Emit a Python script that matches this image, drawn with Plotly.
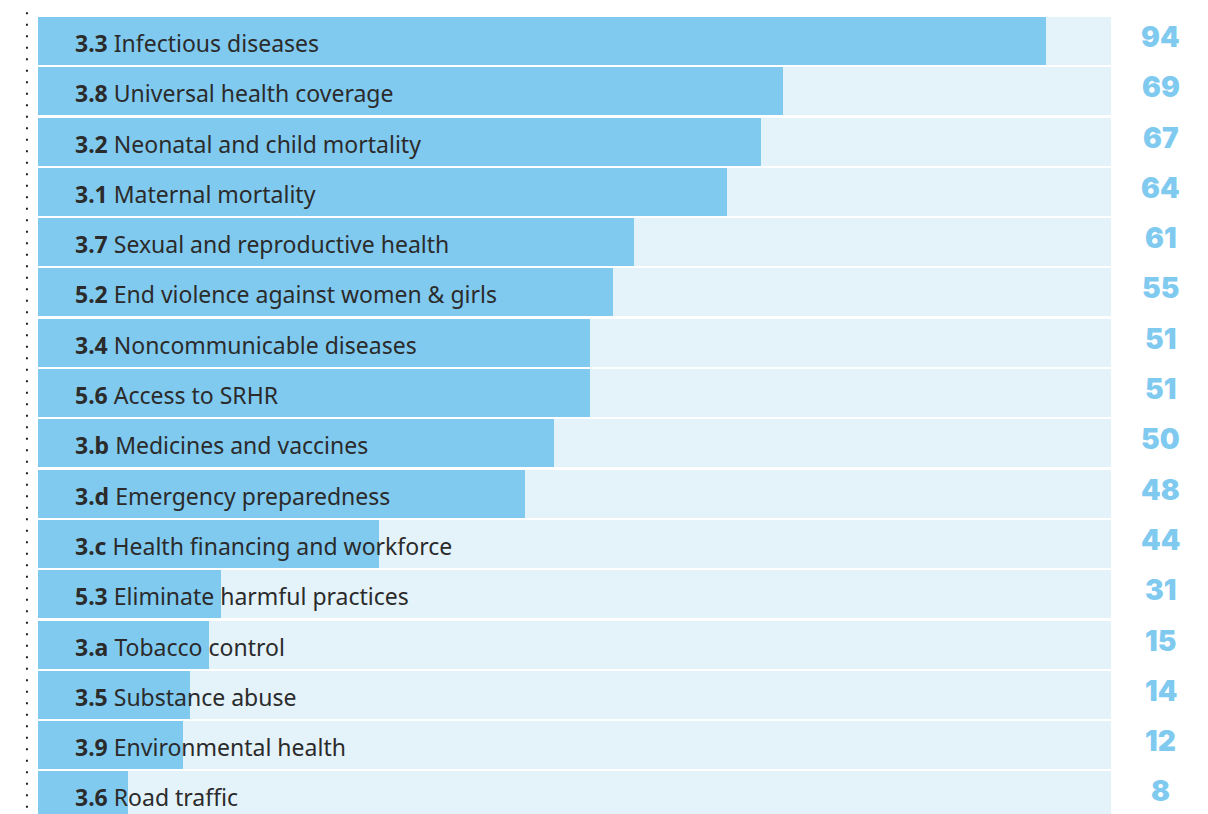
import plotly.graph_objects as go

# Targets, top to bottom
codes = ["3.3", "3.8", "3.2", "3.1", "3.7", "5.2", "3.4", "5.6",
         "3.b", "3.d", "3.c", "5.3", "3.a", "3.5", "3.9", "3.6"]
names = ["Infectious diseases", "Universal health coverage",
         "Neonatal and child mortality", "Maternal mortality",
         "Sexual and reproductive health", "End violence against women & girls",
         "Noncommunicable diseases", "Access to SRHR", "Medicines and vaccines",
         "Emergency preparedness", "Health financing and workforce",
         "Eliminate harmful practices", "Tobacco control", "Substance abuse",
         "Environmental health", "Road traffic"]
# Numbers printed in the right-hand column
counts = [94, 69, 67, 64, 61, 55, 51, 51, 50, 48, 44, 31, 15, 14, 12, 8]
# Filled share of each track (track = 100)
bar_share = [93.9, 69.4, 67.4, 64.2, 55.5, 53.6, 51.4, 51.4,
             48.1, 45.4, 31.8, 17.1, 15.9, 14.2, 13.5, 8.4]
track_max = 100

n = len(codes)
rows = list(range(n))

BAR = "#80caf0"
TRACK = "#e4f2fa"
TEXT = "#2b2b2b"

fig = go.Figure()
fig.add_trace(go.Bar(
    y=rows, x=[track_max] * n, orientation="h", width=0.955,
    marker=dict(color=TRACK, line=dict(width=0)), hoverinfo="skip",
))
fig.add_trace(go.Bar(
    y=rows, x=bar_share, orientation="h", width=0.955,
    marker=dict(color=BAR, line=dict(width=0)),
    customdata=counts, hovertemplate="%{x}<extra></extra>",
))

annotations = []
for i in rows:
    annotations.append(dict(
        x=3.25, y=i, xref="x", yref="y", xanchor="left", yanchor="middle",
        text=f"<b>{codes[i]}</b> {names[i]}", showarrow=False, yshift=-2,
        font=dict(family="Noto Sans", size=23, color=TEXT),
    ))
    annotations.append(dict(
        x=1.0465, y=i, xref="paper", yref="y", xanchor="center", yanchor="middle",
        text=f"{counts[i]}", showarrow=False, yshift=4,
        font=dict(family="Inter", size=28, color=BAR, weight=900),
    ))

fig.update_layout(
    width=1208, height=814,
    margin=dict(l=38, r=97, t=0, b=0),
    paper_bgcolor="white", plot_bgcolor="white",
    barmode="overlay", bargap=0, showlegend=False,
    xaxis=dict(range=[0, track_max], visible=False, fixedrange=True),
    yaxis=dict(range=[15.37, -0.815], visible=False, fixedrange=True),
    annotations=annotations,
    shapes=[dict(
        type="line", xref="paper", yref="paper",
        x0=-0.0103, x1=-0.0103, y0=0.985, y1=0,
        line=dict(color="#222222", width=2, dash="2px,9.5px"),
    )],
)

fig.write_html("out.html")
